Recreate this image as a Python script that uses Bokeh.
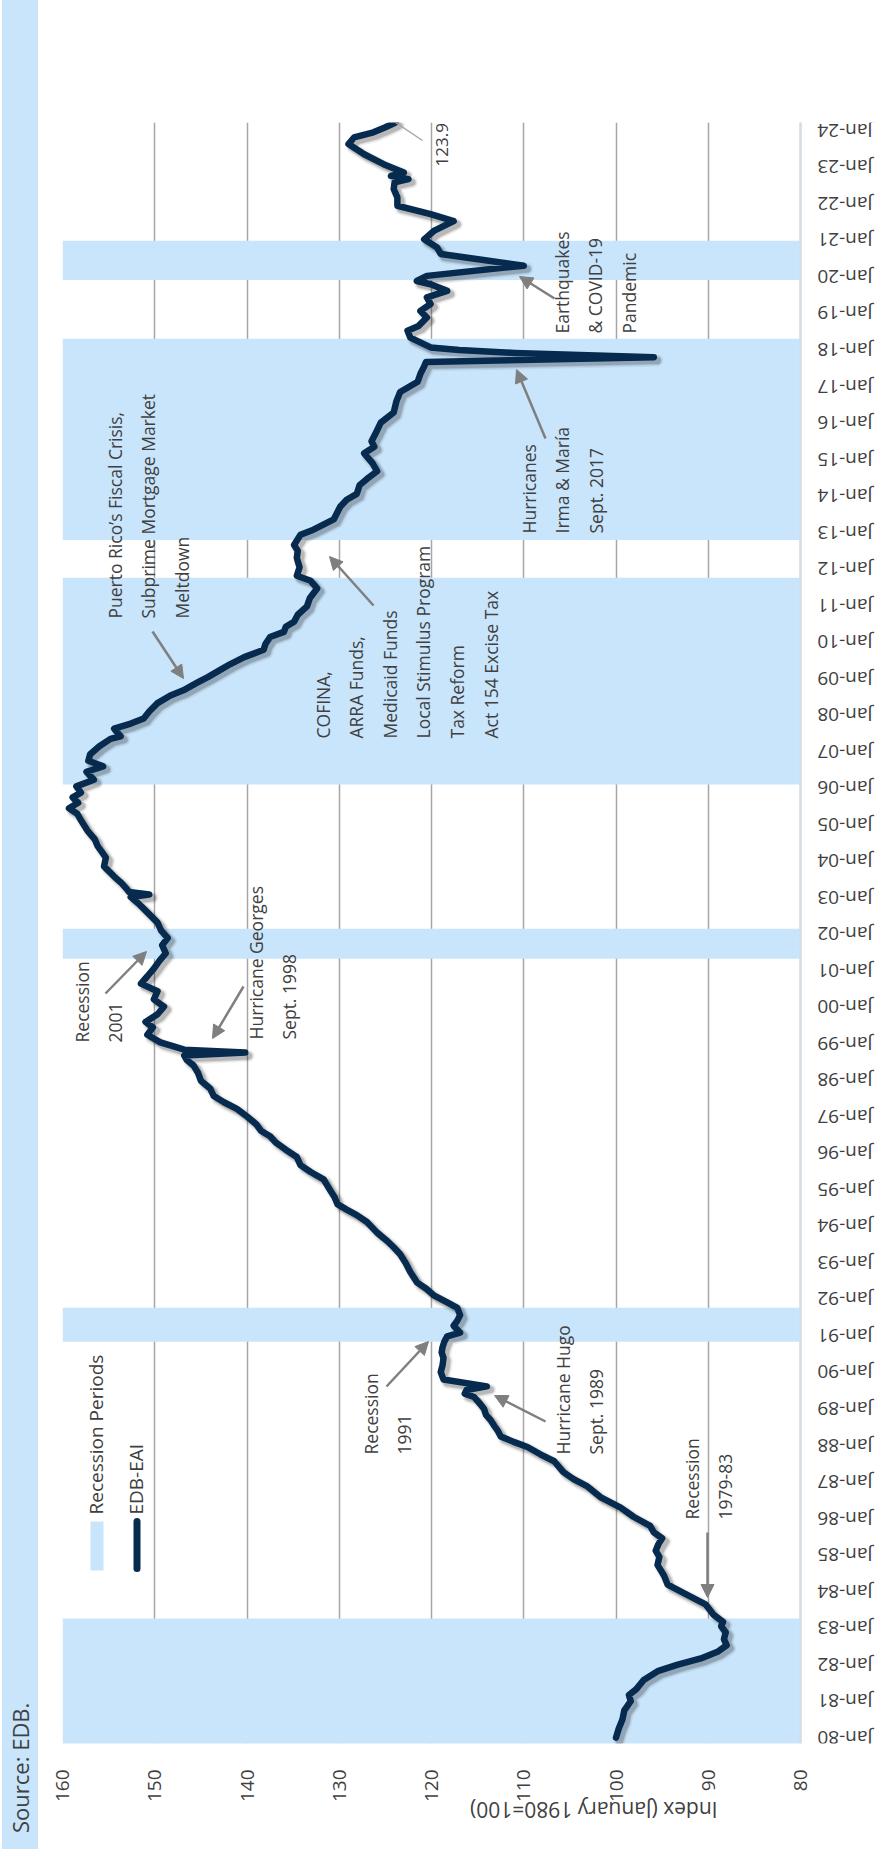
from math import pi

import numpy as np
from bokeh.core.properties import value
from bokeh.embed import file_html
from bokeh.layouts import row
from bokeh.models import (Arrow, ColumnDataSource, Div, FixedTicker, Label, LinearAxis,
                          NormalHead, Range1d, Span)
from bokeh.plotting import figure
from bokeh.resources import INLINE

# ---------------------------------------------------------------------------
# Data: EDB Economic Activity Index (January 1980 = 100), decimal years
# ---------------------------------------------------------------------------
dates = [
    1980.00, 1980.25, 1980.50, 1980.75, 1981.00, 1981.17, 1981.33, 1981.58, 1981.83, 1982.00,
    1982.17, 1982.35, 1982.53, 1982.70, 1982.88, 1983.05, 1983.17, 1983.36, 1983.65, 1983.95,
    1984.19, 1984.44, 1984.73, 1984.95, 1985.12, 1985.30, 1985.46, 1985.62, 1985.80, 1986.05,
    1986.30, 1986.59, 1986.88, 1987.08, 1987.27, 1987.57, 1987.76, 1987.96, 1988.10, 1988.25,
    1988.40, 1988.54, 1988.70, 1988.84, 1989.00, 1989.13, 1989.33, 1989.42, 1989.52, 1989.62,
    1989.81, 1990.01, 1990.20, 1990.40, 1990.55, 1990.70, 1990.85, 1990.99, 1991.09, 1991.28,
    1991.42, 1991.57, 1991.77, 1991.92, 1992.11, 1992.30, 1992.46, 1992.75, 1993.00, 1993.24,
    1993.43, 1993.60, 1993.83, 1994.12, 1994.31, 1994.46, 1994.61, 1994.80, 1995.00, 1995.29,
    1995.49, 1995.68, 1995.90, 1996.10, 1996.30, 1996.47, 1996.62, 1996.80, 1997.01, 1997.22,
    1997.40, 1997.57, 1997.78, 1997.99, 1998.20, 1998.41, 1998.55, 1998.68, 1998.76, 1998.84,
    1998.90, 1999.04, 1999.25, 1999.45, 1999.60, 1999.81, 2000.02, 2000.22, 2000.44, 2000.65,
    2000.85, 2001.06, 2001.27, 2001.48, 2001.70, 2001.90, 2002.10, 2002.32, 2002.60, 2002.85,
    2003.02, 2003.09, 2003.16, 2003.23, 2003.40, 2003.58, 2003.86, 2004.10, 2004.42, 2004.60,
    2004.84, 2005.12, 2005.30, 2005.45, 2005.60, 2005.75, 2005.88, 2006.05, 2006.23, 2006.45,
    2006.60, 2006.75, 2006.93, 2007.15, 2007.35, 2007.42, 2007.63, 2007.77, 2007.91, 2008.10,
    2008.33, 2008.54, 2008.68, 2008.89, 2009.05, 2009.24, 2009.40, 2009.59, 2009.79, 2009.95,
    2010.14, 2010.28, 2010.42, 2010.56, 2010.75, 2010.98, 2011.20, 2011.47, 2011.68, 2011.82,
    2012.05, 2012.31, 2012.50, 2012.66, 2012.94, 2013.08, 2013.36, 2013.71, 2013.90, 2014.06,
    2014.30, 2014.47, 2014.68, 2014.90, 2015.17, 2015.35, 2015.50, 2015.75, 2016.01, 2016.29,
    2016.60, 2016.85, 2017.13, 2017.35, 2017.55, 2017.67, 2017.80, 2017.92, 2018.00, 2018.07,
    2018.34, 2018.53, 2018.66, 2018.89, 2019.07, 2019.26, 2019.44, 2019.62, 2019.80, 2019.89,
    2020.03, 2020.31, 2020.63, 2020.81, 2021.03, 2021.26, 2021.53, 2021.72, 2021.95, 2022.18,
    2022.41, 2022.59, 2022.68, 2022.77, 2022.86, 2023.09, 2023.36, 2023.64, 2023.82, 2023.96,
    2024.10, 2024.23,
]
eai = [
    100.0, 99.7, 99.3, 99.1, 98.4, 98.6, 97.8, 97.0, 95.4, 93.3,
    90.8, 89.0, 88.0, 88.3, 88.1, 88.6, 88.4, 89.4, 90.3, 92.6,
    94.4, 94.8, 95.5, 95.3, 95.7, 95.4, 95.0, 95.9, 96.3, 98.1,
    99.5, 101.7, 103.1, 104.6, 105.7, 106.7, 108.2, 109.6, 111.1, 112.5,
    112.8, 113.2, 113.6, 114.1, 114.3, 114.7, 115.4, 116.4, 116.2, 114.0,
    118.7, 119.0, 118.8, 118.7, 118.9, 118.8, 118.6, 118.3, 116.9, 117.6,
    117.2, 116.9, 117.2, 118.3, 119.75, 120.6, 121.55, 122.3, 122.8, 123.4,
    124.1, 124.8, 125.9, 127.0, 128.1, 129.2, 130.2, 130.5, 131.0, 131.7,
    133.1, 134.2, 134.6, 135.8, 136.9, 137.5, 138.5, 139.0, 140.0, 141.1,
    142.5, 143.6, 144.0, 145.0, 145.3, 145.8, 146.5, 146.8, 140.2, 146.8,
    147.6, 149.4, 150.8, 150.2, 151.0, 149.7, 149.0, 150.1, 149.7, 151.5,
    150.8, 150.1, 149.5, 148.8, 149.2, 148.6, 149.3, 149.7, 150.8, 151.8,
    152.6, 150.6, 152.8, 153.0, 153.6, 154.4, 155.5, 155.3, 156.2, 156.5,
    157.3, 158.0, 158.4, 159.3, 158.3, 158.9, 158.0, 158.5, 156.6, 157.4,
    155.6, 157.2, 157.0, 156.0, 154.8, 153.7, 154.4, 152.6, 151.2, 150.6,
    149.7, 148.3, 146.9, 145.4, 144.2, 142.9, 141.8, 140.3, 138.2, 138.0,
    137.5, 136.0, 135.8, 134.9, 134.5, 133.5, 133.2, 132.4, 133.1, 134.6,
    134.3, 134.6, 134.5, 134.9, 134.2, 132.8, 130.6, 129.9, 129.2, 128.1,
    127.8, 127.0, 125.9, 126.4, 127.3, 126.2, 126.5, 126.0, 125.5, 124.1,
    123.8, 123.4, 121.5, 121.2, 120.8, 120.6, 95.9, 111.0, 117.0, 120.1,
    122.3, 122.6, 121.4, 120.5, 121.2, 120.1, 120.5, 118.3, 120.1, 121.6,
    120.5, 110.0, 119.0, 119.4, 120.8, 119.75, 117.6, 120.1, 123.7, 123.7,
    124.1, 124.0, 122.5, 124.4, 123.0, 125.2, 127.3, 129.0, 128.4, 126.3,
    125.0, 123.9,
]

# Recession periods (decimal years)
recession_start = [1979.75, 1990.84, 2001.33, 2006.10, 2012.80, 2019.92]
recession_end = [1983.26, 1991.77, 2002.15, 2011.76, 2018.31, 2020.99]

index_ticks = [80, 90, 100, 110, 120, 130, 140, 150, 160]
year_ticks = list(range(1980, 2025))
year_labels = ["Jan-%02d" % (y % 100) for y in year_ticks]
latest_label = "123.9"

# ---------------------------------------------------------------------------
# Layout (page pixels) and styling
# ---------------------------------------------------------------------------
PAGE_W, PAGE_H = 877, 1849
SIDE_W = 40
FL, FR, FT, FB = 62, 800, 122, 1743          # plot area edges (index 160..80)
V_LEFT, V_RIGHT = 160, 80                    # index axis runs right-to-left
T0, T1 = 1979.84, 2024.23                    # time axis, bottom-to-top
TITLE_CX = 528                               # centre of the axis-title strip

BAND = "#C9E5FB"
NAVY = "#062B4F"
GRID = "#A6A6A6"
ARROW = "#7F7F7F"
INK = "#404040"
FONT = "Open Sans"


def xv(px):
    """page x pixel -> index value"""
    return V_LEFT + (px - FL) * (V_RIGHT - V_LEFT) / (FR - FL)


def yt(py):
    """page y pixel -> decimal year"""
    return T0 + (FB - py) * (T1 - T0) / (FB - FT)


# ---------------------------------------------------------------------------
# Main chart: the frame runs on to the right page edge so the month labels
# beside the time axis sit inside it
# ---------------------------------------------------------------------------
p = figure(width=PAGE_W - SIDE_W, height=PAGE_H,
           x_range=Range1d(V_LEFT, xv(PAGE_W)), y_range=Range1d(T0, T1),
           min_border_left=FL - SIDE_W, min_border_right=0,
           min_border_top=FT, min_border_bottom=PAGE_H - FB,
           y_axis_location=None, output_backend="svg", toolbar_location=None)
p.outline_line_color = None
p.background_fill_color = "white"
p.border_fill_color = "white"

xa = p.xaxis[0]
xa.ticker = FixedTicker(ticks=index_ticks)
xa.major_label_orientation = pi / 2
xa.major_label_standoff = 20
xa.axis_line_color = None
xa.major_tick_line_color = None
xa.minor_tick_line_color = None
xa.major_label_text_font = FONT
xa.major_label_text_font_size = "19px"
xa.major_label_text_color = INK

# second, label-only axis carrying the upside-down title
p.extra_x_ranges = {"page": Range1d(FL, PAGE_W)}
title_axis = LinearAxis(x_range_name="page", ticker=FixedTicker(ticks=[]),
                        bounds=(2 * TITLE_CX - PAGE_W, PAGE_W),
                        axis_line_color=None, major_tick_line_color=None,
                        minor_tick_line_color=None, major_label_text_font_size="0px",
                        axis_label="Index (January 1980=100)", axis_label_standoff=4,
                        axis_label_text_font=FONT, axis_label_text_font_size="21px",
                        axis_label_text_font_style="normal", axis_label_text_color=INK)
if "axis_label_orientation" in title_axis.properties():
    title_axis.axis_label_orientation = pi
p.add_layout(title_axis, "below")

p.xgrid.ticker = FixedTicker(ticks=index_ticks)
p.xgrid.grid_line_color = GRID
p.xgrid.grid_line_width = 1.5
p.ygrid.visible = False

# time axis line at index 80
p.add_layout(Span(location=V_RIGHT, dimension="height", line_color="#D5DDE7", line_width=2))

# recession bands
p.quad(left=V_LEFT, right=V_RIGHT, bottom=recession_start, top=recession_end,
       fill_color=BAND, line_color=None)

# index line with a soft drop shadow
v = np.array(eai)
t = np.array(dates)
for w, a in ((12, 0.06), (9, 0.10), (7, 0.14)):
    p.line(x=v - 0.38, y=t - 0.09, line_width=w, line_color="#000000",
           line_alpha=a, line_join="round", line_cap="round")
p.line(x=v, y=t, line_width=6.5, line_color=NAVY, line_join="round", line_cap="round")

# upside-down month labels beside the time axis
lab_src = ColumnDataSource(dict(x=[V_RIGHT] * len(year_ticks), y=year_ticks, text=year_labels))
p.text(x="x", y="y", text="text", source=lab_src, angle=pi, x_offset=72,
       text_align="left", text_baseline="middle",
       text_font=value(FONT), text_font_size=value("19px"), text_color=INK)

# legend
p.quad(left=xv(90), right=xv(103), bottom=yt(1570), top=yt(1521),
       fill_color=BAND, line_color=None)
p.line(x=[xv(136.5), xv(136.5)], y=[yt(1568), yt(1521)], line_width=7,
       line_color=NAVY, line_cap="round")
for txt, cx, sy in (("Recession Periods", 95.6, 1514), ("EDB-EAI", 135.6, 1514)):
    p.add_layout(Label(x=xv(cx), y=yt(sy), text=txt, angle=pi / 2,
                       text_align="left", text_baseline="middle",
                       text_font=FONT, text_font_size="19px", text_color=INK))

# event annotations: text block (centre x, start y) and arrow (tail -> head)
notes = [
    ("Recession\n1979-83", 708, 1519, (707, 1532), (707, 1597)),
    ("Hurricane Hugo\nSept. 1989", 579, 1454, (545, 1421), (494, 1395)),
    ("Recession\n1991", 387, 1454, (386, 1386), (428, 1341)),
    ("Hurricane Georges\nSept. 1998", 272, 1039, (243, 986), (212, 1038)),
    ("Recession\n2001", 98, 1042, (105, 993), (146, 951)),
    ("Puerto Rico\u2019s Fiscal Crisis,\nSubprime Mortgage Market\nMeltdown", 148, 618,
     (152, 631), (183, 678)),
    ("COFINA,\nARRA Funds,\nMedicaid Funds\nLocal Stimulus Program\nTax Reform\nAct 154 Excise Tax",
     406, 738, (373, 605), (329, 556)),
    ("Hurricanes\nIrma & Mar\u00eda\nSept. 2017", 562, 533, (545, 438), (516, 369)),
    ("Earthquakes\n& COVID-19\nPandemic", 595, 333, (554, 298), (519, 276)),
]
for txt, cx, sy, tail, head in notes:
    p.add_layout(Label(x=xv(cx), y=yt(sy), text=txt, angle=pi / 2,
                       text_align="left", text_baseline="middle", text_line_height=1.4,
                       text_font=FONT, text_font_size="17.5px", text_color=INK))
    p.add_layout(Arrow(x_start=xv(tail[0]), y_start=yt(tail[1]),
                       x_end=xv(head[0]), y_end=yt(head[1]),
                       line_color=ARROW, line_width=2.5,
                       end=NormalHead(size=13, fill_color=ARROW, line_color=ARROW)))

# latest value callout
p.segment(x0=[eai[-1]], y0=[dates[-1]], x1=[xv(422)], y1=[yt(140)],
          line_color="#A6A6A6", line_width=1.5)
p.add_layout(Label(x=xv(441), y=yt(166), text=latest_label, angle=pi / 2,
                   text_align="left", text_baseline="middle",
                   text_font=FONT, text_font_size="17px", text_color=INK))

# ---------------------------------------------------------------------------
# Source strip on the left edge
# ---------------------------------------------------------------------------
src = Div(text="Source: EDB.", width=SIDE_W - 4, height=PAGE_H, margin=(0, 2, 0, 2),
          styles={"background-color": BAND, "writing-mode": "vertical-rl",
                  "transform": "rotate(180deg)", "font-family": FONT,
                  "font-size": "22px", "line-height": "36px", "color": INK,
                  "padding-top": "16px", "box-sizing": "border-box",
                  "white-space": "nowrap"})

layout = row(src, p)
open("out.html", "w").write(file_html(layout, INLINE, title="EDB-EAI"))
